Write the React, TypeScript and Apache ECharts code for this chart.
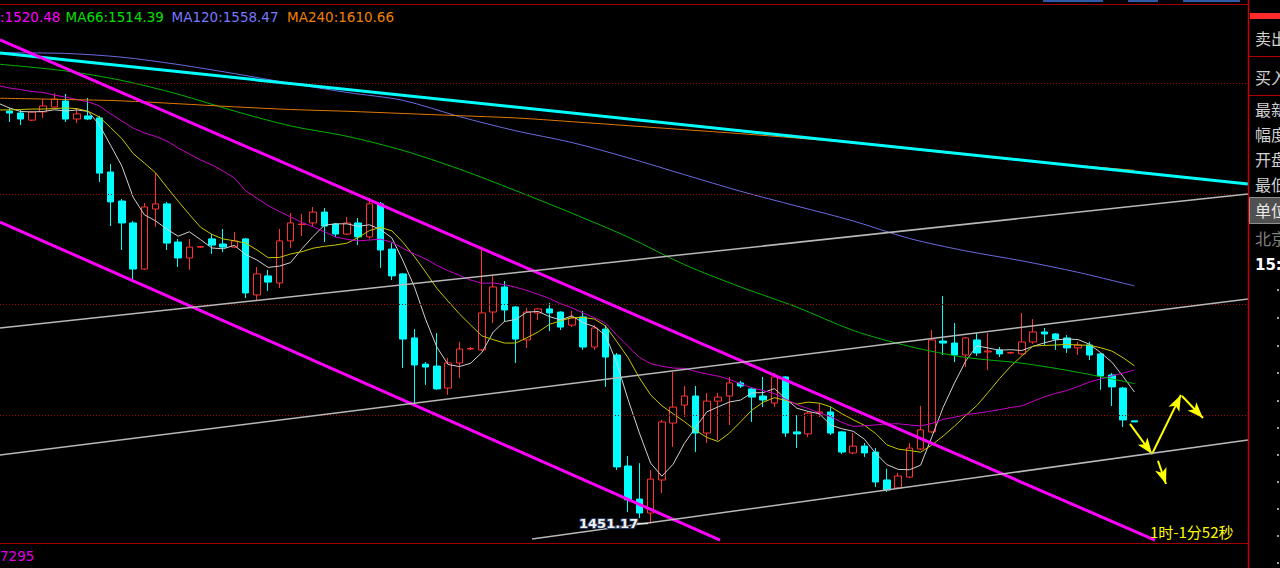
import React, { useEffect, useRef } from "react";
import * as echarts from "echarts";

// ---- candle data (bar index 0..100) ----
const opens = [
  1637.4, 1636.5, 1633.3, 1637.0, 1639.2, 1641.9, 1633.8, 1635.2, 1634.3, 1609.9,
  1596.8, 1586.9, 1566.1, 1593.2, 1595.5, 1578.3, 1571.1, 1576.0, 1579.7, 1577.4,
  1576.0, 1579.7, 1554.4, 1563.0, 1559.8, 1578.8, 1586.2, 1586.9, 1591.8, 1586.4,
  1581.9, 1586.9, 1580.6, 1595.5, 1575.1, 1563.9, 1535.0, 1523.2, 1522.3, 1512.4,
  1523.7, 1530.0, 1529.6, 1546.7, 1558.0, 1549.0, 1534.1, 1546.3, 1548.1, 1546.7,
  1540.8, 1544.5, 1530.9, 1539.0, 1527.3, 1477.2, 1462.3, 1456.0, 1470.9, 1496.6,
  1504.7, 1508.8, 1492.1, 1506.5, 1508.8, 1514.7, 1512.0, 1508.8, 1505.6, 1517.4,
  1492.6, 1491.7, 1501.1, 1501.6, 1492.6, 1483.1, 1486.2, 1483.5, 1470.9, 1467.3,
  1472.2, 1484.9, 1492.6, 1533.6, 1532.7, 1527.3, 1534.1, 1528.7, 1529.6, 1528.2,
  1527.8, 1533.2, 1537.7, 1536.8, 1535.0, 1530.5, 1531.8, 1527.8, 1518.3, 1512.4,
  1497.6,
];
const closes = [
  1636.5, 1633.8, 1637.0, 1639.7, 1642.8, 1633.8, 1636.1, 1633.8, 1609.4, 1596.4,
  1586.9, 1566.1, 1594.1, 1595.5, 1577.8, 1571.1, 1576.0, 1576.2, 1576.9, 1576.0,
  1578.8, 1555.3, 1563.9, 1560.2, 1578.8, 1586.9, 1586.4, 1591.8, 1585.5, 1581.9,
  1586.9, 1580.6, 1595.5, 1574.7, 1563.0, 1534.5, 1522.8, 1521.9, 1512.0, 1523.7,
  1530.0, 1530.2, 1546.3, 1558.0, 1547.6, 1534.5, 1546.7, 1548.1, 1546.3, 1539.9,
  1544.0, 1530.9, 1539.5, 1526.4, 1476.8, 1461.9, 1456.0, 1471.3, 1497.1, 1503.8,
  1508.8, 1492.1, 1506.5, 1508.3, 1514.7, 1513.3, 1508.3, 1507.0, 1517.4, 1492.1,
  1491.7, 1501.1, 1501.6, 1492.1, 1483.5, 1486.2, 1483.1, 1470.0, 1466.4, 1472.7,
  1485.3, 1493.5, 1534.1, 1532.7, 1527.3, 1535.0, 1528.2, 1529.1, 1527.8, 1528.4,
  1533.2, 1537.7, 1536.8, 1534.5, 1530.5, 1531.8, 1527.3, 1517.8, 1512.9, 1498.0,
  1497.1,
];
const lows = [
  1632.5, 1631.1, 1632.9, 1634.3, 1638.8, 1632.5, 1632.0, 1633.3, 1605.4, 1585.5,
  1574.7, 1560.2, 1565.7, 1585.1, 1574.7, 1567.0, 1565.7, 1575.6, 1572.9, 1573.8,
  1575.6, 1553.0, 1552.1, 1556.2, 1557.5, 1575.6, 1581.0, 1585.5, 1578.3, 1580.6,
  1581.5, 1576.9, 1579.7, 1566.6, 1561.1, 1521.4, 1505.2, 1513.8, 1511.6, 1509.3,
  1516.9, 1529.6, 1529.1, 1541.7, 1542.2, 1523.7, 1530.5, 1543.1, 1538.1, 1538.6,
  1539.9, 1529.6, 1529.6, 1512.9, 1475.4, 1456.4, 1453.7, 1451.17, 1465.0, 1485.8,
  1499.3, 1483.5, 1487.6, 1488.9, 1495.7, 1512.4, 1497.1, 1503.8, 1503.8, 1490.3,
  1485.3, 1490.3, 1499.3, 1491.2, 1482.6, 1482.6, 1481.3, 1467.7, 1465.5, 1466.8,
  1471.8, 1484.4, 1492.1, 1527.3, 1524.1, 1521.9, 1526.9, 1520.5, 1526.4, 1527.9,
  1527.3, 1532.3, 1531.8, 1529.6, 1528.2, 1527.3, 1525.0, 1511.6, 1504.3, 1494.8,
  1497.1,
];
const highs = [
  1638.8, 1637.9, 1637.4, 1642.8, 1645.5, 1645.1, 1638.8, 1643.3, 1635.2, 1613.5,
  1597.7, 1587.8, 1595.9, 1609.4, 1596.4, 1579.7, 1579.7, 1576.5, 1581.9, 1584.2,
  1582.8, 1580.1, 1567.0, 1565.7, 1584.2, 1591.4, 1590.9, 1594.1, 1593.6, 1586.9,
  1589.6, 1589.1, 1598.2, 1596.4, 1577.8, 1564.3, 1539.0, 1524.1, 1537.2, 1526.0,
  1533.2, 1530.9, 1575.6, 1563.4, 1560.7, 1549.4, 1548.5, 1548.5, 1550.8, 1547.0,
  1547.2, 1547.2, 1540.8, 1540.8, 1528.2, 1481.7, 1478.5, 1475.4, 1498.0, 1519.6,
  1513.3, 1513.3, 1510.2, 1510.2, 1517.4, 1515.6, 1512.4, 1517.4, 1519.2, 1517.8,
  1500.2, 1501.6, 1505.6, 1503.8, 1493.0, 1492.1, 1487.6, 1485.3, 1475.9, 1474.1,
  1487.6, 1504.3, 1538.6, 1553.9, 1541.7, 1535.4, 1537.2, 1537.2, 1530.9, 1528.8,
  1546.3, 1543.5, 1539.5, 1537.2, 1536.3, 1533.2, 1533.2, 1528.2, 1519.2, 1512.9,
  1497.6,
];

// moving-average values for the first bars (before enough closes exist)
const ma5Lead = [1638.8, 1637.2, 1637.0, 1637.2];
const ma10Lead = [1637.9, 1638.1, 1638.3, 1638.3, 1638.5, 1638.8, 1638.5, 1637.3, 1634.7];
const ma22Lead = [
  1647.8, 1647.1, 1646.2, 1645.8, 1644.6, 1643.7, 1642.6, 1641.5, 1639.7, 1636.1,
  1632.9, 1629.7, 1627.5, 1625.9, 1623.9, 1620.7, 1618.0, 1615.3, 1613.1, 1610.3, 1607.2,
];
// values of the short averages at the left edge of the plot
const edgeIndex = -0.836;
const ma5AtEdge = 1640.6;
const ma10AtEdge = 1637.9;
const ma22AtEdge = 1648.7;

// long moving averages, read every 5 bars (first point at the left edge)
const slowIdx = [-0.836, 5, 10, 15, 20, 25, 30, 35, 40, 45, 50, 55, 60, 65, 70, 75, 80, 85, 90, 95, 100];
const ma66 = [
  1658.5, 1655.5, 1651.2, 1645.0, 1637.4, 1630.7, 1626.0, 1619.6, 1611.2, 1601.5,
  1591.3, 1580.5, 1568.1, 1558.0, 1548.9, 1538.4, 1531.2, 1526.2, 1523.6, 1519.5, 1514.39,
];
const ma120 = [
  1663.7, 1663.4, 1661.7, 1658.4, 1654.3, 1649.9, 1645.8, 1642.2, 1634.9, 1628.5,
  1623.2, 1616.3, 1608.7, 1601.2, 1594.5, 1587.8, 1579.9, 1574.3, 1569.8, 1564.6, 1558.47,
];
const ma240 = [
  1643.2, 1642.6, 1642.0, 1640.7, 1639.3, 1638.1, 1637.3, 1636.3, 1635.3, 1634.3,
  1632.6, 1630.8, 1629.0, 1627.2, 1625.2, 1623.0, 1620.3, 1617.6, 1615.1, 1612.8, 1610.66,
];

// hand-drawn trend lines: [barIndex, price] endpoints
const cyanTrend = [[-0.836, 1663.6], [110.1, 1604.5]];
const magentaUpper = [[-0.836, 1669.5], [101.83, 1443.8]];
const magentaLower = [[-0.836, 1587.3], [63.17, 1443.8]];
const grayA = [[-0.836, 1539.5], [110.1, 1600.0]];
const grayB = [[-0.836, 1482.2], [110.1, 1552.6]];
const grayC = [[46.46, 1444.3], [110.1, 1488.9]];

// yellow forecast arrows: [barIndex, price] start -> end
const arrowPaths = [
  [[99.61, 1496.2], [101.57, 1482.6]],
  [[101.57, 1482.6], [104.14, 1509.3]],
  [[104.23, 1508.8], [106.1, 1498.9]],
  [[102.1, 1479.5], [102.81, 1469.1]],
];

const gridPrices = [1500, 1550, 1600, 1650];
const legendItems = [
  { text: ":1520.48", x: 0, color: "#ff00ff" },
  { text: "MA66:1514.39", x: 65.5, color: "#00e000" },
  { text: "MA120:1558.47", x: 171.5, color: "#7878ff" },
  { text: "MA240:1610.66", x: 287, color: "#f08000" },
];
const panelLabels = [
  { text: "卖出", y: 38 },
  { text: "买入", y: 77 },
  { text: "最新", y: 109 },
  { text: "幅度", y: 134 },
  { text: "开盘", y: 159 },
  { text: "最低", y: 184 },
];
const lowLabel = "1451.17";
const timerLabel = "1时-1分52秒";
const volLabel = "7295";

const X_MIN = -0.836;
const X_MAX = 110.1;
const Y_MIN = 1442.46;
const Y_MAX = 1685.71;

function movingAverage(n: number, lead: number[]) {
  return closes.map((_, i) => {
    if (i < lead.length) return lead[i];
    let s = 0;
    for (let k = i - n + 1; k <= i; k++) s += closes[k];
    return +(s / n).toFixed(2);
  });
}

export default function App() {
  const ref = useRef<HTMLDivElement>(null);
  useEffect(() => {
    if (!ref.current) return;
    const chart = echarts.init(ref.current, undefined, { renderer: "svg" });
    const cats = Array.from({ length: 111 }, (_, i) => String(i));
    const candles = opens.map((o, i) => [o, closes[i], lows[i], highs[i]]);
    const withEdge = (edge: number, arr: number[]) => [[edgeIndex, edge], ...arr.map((v, i) => [i, v])];
    const ma5 = withEdge(ma5AtEdge, movingAverage(5, ma5Lead));
    const ma10 = withEdge(ma10AtEdge, movingAverage(10, ma10Lead));
    const ma22 = withEdge(ma22AtEdge, movingAverage(22, ma22Lead));
    const slow = (arr: number[]) => slowIdx.map((u, k) => [u, arr[k]]);

    const maLine = (data: any, color: string, smooth: any, z = 3) => ({
      type: "line",
      xAxisIndex: 1,
      yAxisIndex: 1,
      data,
      showSymbol: false,
      symbol: "none",
      smooth,
      silent: true,
      z,
      lineStyle: { color, width: 1 },
    });
    const trend = (data: any, color: string, width: number) => ({
      type: "line",
      xAxisIndex: 1,
      yAxisIndex: 1,
      data,
      showSymbol: false,
      symbol: "none",
      silent: true,
      z: 5,
      lineStyle: { color, width },
    });

    const font = '13.5px "DejaVu Sans"';
    const graphic: any[] = [];
    const hline = (x1: number, x2: number, y: number, stroke: string, w = 1) =>
      graphic.push({ type: "line", silent: true, z: 100, shape: { x1, y1: y, x2, y2: y }, style: { stroke, lineWidth: w } });

    // frame
    hline(0, 1248, 4.5, "#a00000");
    hline(0, 1248, 543.5, "#a00000");
    graphic.push({ type: "rect", silent: true, z: 99, shape: { x: 1249, y: 0, width: 31, height: 568 }, style: { fill: "#000" } });
    graphic.push({ type: "line", silent: true, z: 100, shape: { x1: 1248.5, y1: 0, x2: 1248.5, y2: 568 }, style: { stroke: "#c80000", lineWidth: 1.5 } });
    // top tabs
    [[1043, 60], [1128, 30], [1183, 57]].forEach(([x, w]) =>
      graphic.push({ type: "rect", silent: true, z: 100, shape: { x, y: 0, width: w, height: 2 }, style: { fill: "#2f5aa8" } })
    );
    // right panel
    graphic.push({ type: "rect", silent: true, z: 100, shape: { x: 1250, y: 13, width: 30, height: 6 }, style: { fill: "#ff2a2a" } });
    hline(1249, 1280, 56.5, "#b00000");
    hline(1249, 1280, 95.5, "#b00000");
    graphic.push({ type: "rect", silent: true, z: 100, shape: { x: 1249.5, y: 197.5, width: 32, height: 26 }, style: { fill: "#505050", stroke: "#909090", lineWidth: 1 } });
    panelLabels.forEach((p) =>
      graphic.push({ type: "text", silent: true, z: 101, x: 1255, y: p.y, style: { text: p.text, fill: "#d0d0d0", font: '16px "Noto Sans CJK SC"', verticalAlign: "middle" } })
    );
    graphic.push({ type: "text", silent: true, z: 101, x: 1255, y: 210, style: { text: "单位", fill: "#e8e8e8", font: '16px "Noto Sans CJK SC"', verticalAlign: "middle" } });
    graphic.push({ type: "text", silent: true, z: 101, x: 1255, y: 238, style: { text: "北京", fill: "#808080", font: '16px "Noto Sans CJK SC"', verticalAlign: "middle" } });
    graphic.push({ type: "text", silent: true, z: 101, x: 1255, y: 265, style: { text: "15:", fill: "#ffffff", font: 'bold 15px "DejaVu Sans"', verticalAlign: "middle" } });
    [289, 317, 345, 372, 400, 427, 454, 481, 508, 535, 562].forEach((y) =>
      graphic.push({ type: "rect", silent: true, z: 101, shape: { x: 1277, y, width: 2, height: 2 }, style: { fill: "#a0a0a0" } })
    );
    // legend
    legendItems.forEach((l) =>
      graphic.push({ type: "text", silent: true, z: 101, x: l.x, y: 17, style: { text: l.text, fill: l.color, font, verticalAlign: "middle" } })
    );
    graphic.push({ type: "text", silent: true, z: 101, x: 0, y: 556, style: { text: volLabel, fill: "#e000e0", font, verticalAlign: "middle" } });
    // low label
    graphic.push({
      type: "text", silent: true, z: 101, x: 579, y: 523,
      style: { text: lowLabel, fill: "#f0f0f0", font: 'bold 13px "DejaVu Sans"', verticalAlign: "middle", stroke: "#28385a", lineWidth: 2 },
    });
    hline(637, 648, 523.5, "#e0e0e0", 1.5);
    graphic.push({ type: "text", silent: true, z: 101, x: 1150, y: 531, style: { text: timerLabel, fill: "#ffff00", font: '15px "Noto Sans CJK SC"', verticalAlign: "middle" } });

    const option: any = {
      backgroundColor: "#000000",
      animation: false,
      grid: [
        { left: 3.75, top: 4, width: 1248.75, height: 539, containLabel: false },
        { left: 0, top: 4, width: 1248, height: 539, containLabel: false },
      ],
      xAxis: [
        { type: "category", gridIndex: 0, data: cats, boundaryGap: true, show: false },
        { type: "value", gridIndex: 1, min: X_MIN, max: X_MAX, show: false },
      ],
      yAxis: [
        { type: "value", gridIndex: 0, min: Y_MIN, max: Y_MAX, show: false, splitLine: { show: false } },
        { type: "value", gridIndex: 1, min: Y_MIN, max: Y_MAX, show: false, splitLine: { show: false } },
      ],
      graphic,
      series: [
        {
          type: "line",
          xAxisIndex: 1,
          yAxisIndex: 1,
          data: [],
          silent: true,
          z: 1,
          markLine: {
            silent: true,
            symbol: ["none", "none"],
            label: { show: false },
            lineStyle: { color: "#a00000", type: [1, 2], width: 1 },
            data: gridPrices.map((p) => [{ coord: [X_MIN, p] }, { coord: [X_MAX, p] }]),
          },
        },
        {
          type: "candlestick",
          xAxisIndex: 0,
          yAxisIndex: 0,
          data: candles,
          barWidth: 7,
          silent: true,
          z: 2,
          itemStyle: {
            color: "#000000",
            color0: "#00ffff",
            borderColor: "#ff3232",
            borderColor0: "#00ffff",
            borderWidth: 1,
          },
        },
        maLine(ma5, "#d0d0d0", false),
        maLine(ma10, "#c8c800", false),
        maLine(ma22, "#c800c8", false),
        maLine(slow(ma66), "#00b400", 0.3),
        maLine(slow(ma120), "#6a6ae0", 0.3),
        maLine(slow(ma240), "#e07800", 0.3),
        trend(cyanTrend, "#00ffff", 3),
        trend(magentaUpper, "#ff00ff", 3),
        trend(magentaLower, "#ff00ff", 3),
        trend(grayA, "#b8b8b8", 1.5),
        trend(grayB, "#b8b8b8", 1.5),
        trend(grayC, "#b8b8b8", 1.5),
        {
          type: "line",
          xAxisIndex: 1,
          yAxisIndex: 1,
          data: [],
          silent: true,
          z: 6,
          markLine: {
            silent: true,
            symbol: ["none", "arrow"],
            symbolSize: [9, 16],
            label: { show: false },
            lineStyle: { color: "#ffff00", width: 2, type: "solid" },
            data: arrowPaths.map(([a, b]) => [{ coord: a }, { coord: b }]),
          },
        },
      ],
    };
    chart.setOption(option);
    return () => chart.dispose();
  }, []);
  return (
    <div
      ref={ref}
      style={{ position: "fixed", left: 0, top: 0, width: 1280, height: 568, background: "#000" }}
    />
  );
}
